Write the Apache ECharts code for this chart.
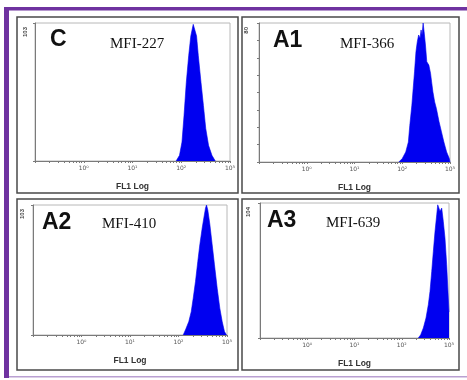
<!DOCTYPE html>
<html>
<head>
<meta charset="utf-8">
<script src="https://cdn.jsdelivr.net/npm/echarts@6/dist/echarts.min.js"></script>
<style>html,body{margin:0;padding:0;background:#fff;}#c{width:467px;height:380px;}</style>
</head>
<body>
<div id="c"></div>
<script>
// ---- data (FL1 intensity on log scale, event counts) ----
const panelNames = ['C', 'A1', 'A2', 'A3'];
const mfiLabels = ['MFI-227', 'MFI-366', 'MFI-410', 'MFI-639'];
const yMaxValues = [103, 80, 103, 104];
const yTickSteps = [103, 10, 103, 104];
const xTickLabels = ['10⁰', '10¹', '10²', '10³'];
const xAxisName = 'FL1 Log';

const cX = [78.5, 92, 103.5, 114, 127, 142, 157, 176, 184.5, 206, 224, 254, 285, 318, 363, 426, 499];
const cY = [0, 4.2, 14.1, 33.9, 58.7, 78.5, 93.3, 102, 103, 93.3, 78.5, 58.7, 41.4, 24.3, 11.7, 4.2, 0];

const a1X = [84.9, 100, 118.3, 134.3, 143.9, 158.9, 169.4, 180.7, 193.6, 206.5, 220.3, 236.0, 247.7, 260.0, 273.5, 287.1, 306.2, 326.6, 360.6, 391.7, 412.1, 438.5, 477.5, 518.8, 590.2, 663.7, 744.7, 849.2, 966, 1000];
const a1Y = [0, 2, 5.8, 11.5, 21.1, 32.7, 42.3, 51.9, 63.4, 69.2, 73.1, 71.2, 76, 73.1, 80, 75, 67.3, 57.7, 55.8, 51, 46.1, 40.4, 34.6, 30.8, 23.1, 17.3, 11.5, 5.8, 2, 0];

const a2X = [125, 139, 163, 183, 201, 224, 250, 275, 308, 333, 361, 378, 402, 442, 495, 552, 628, 711, 796, 887, 977];
const a2Y = [0, 4, 10.6, 18.5, 29.1, 42.4, 58.3, 71.5, 84.8, 92.7, 100.7, 103, 99, 87.9, 71.5, 55.6, 37, 21.2, 10.6, 2.7, 0];

const a3X = [224, 252, 286, 326, 365, 396, 431, 466, 506, 550, 577, 605, 646, 701, 757, 822, 893, 966, 1000];
const a3Y = [0, 2.5, 7.7, 15.4, 25.6, 35.9, 51.3, 66.7, 82.1, 94.9, 102.6, 104, 97.6, 100.1, 89.9, 77, 56.5, 30.8, 20];

const seriesX = [cX, a1X, a2X, a3X];
const seriesY = [cY, a1Y, a2Y, a3Y];

// ---- layout ----
const grids = [
  {left: 35, top: 23, width: 195, height: 138},
  {left: 259, top: 23, width: 191, height: 139},
  {left: 33, top: 205, width: 194, height: 130},
  {left: 260, top: 203, width: 189, height: 135}
];
const boxes = [
  {x: 17, y: 17, w: 221, h: 176},
  {x: 242, y: 17, w: 217, h: 176},
  {x: 17, y: 199, w: 221, h: 171},
  {x: 242, y: 199, w: 217, h: 171}
];
const bigPos = [[50, 40], [273, 41], [42, 223], [267, 221]];
const mfiPos = [[110, 44], [340, 44], [102, 224], [326, 223]];
const yLabelMargin = [10, 13, 11, 12];

const chart = echarts.init(document.getElementById('c'), null, {renderer: 'canvas'});

const xAxes = [], yAxes = [], series = [], gridOpts = [];
for (let i = 0; i < 4; i++) {
  gridOpts.push(Object.assign({show: true, borderColor: '#b8b8b8', borderWidth: 1, backgroundColor: '#fff'}, grids[i]));
  xAxes.push({
    type: 'log', logBase: 10, min: 0.1, max: 1000, gridIndex: i,
    name: xAxisName, nameLocation: 'middle', nameGap: 21,
    nameTextStyle: {fontSize: 8.5, fontWeight: 'bold', color: '#333', fontFamily: 'Liberation Sans'},
    axisLine: {show: true, lineStyle: {color: '#7a7a7a', width: 1}},
    axisTick: {show: true, length: 2, lineStyle: {color: '#7a7a7a'}},
    minorTick: {show: true, splitNumber: 9, length: 2, lineStyle: {color: '#7a7a7a'}},
    splitLine: {show: false},
    axisLabel: {
      fontSize: 6, color: '#555', margin: 4, fontFamily: 'DejaVu Sans',
      formatter: v => { const e = Math.round(Math.log10(v)); return e >= 0 ? xTickLabels[e] : ''; }
    }
  });
  const ymax = yMaxValues[i];
  yAxes.push({
    type: 'value', min: 0, max: ymax, interval: yTickSteps[i], gridIndex: i,
    axisLine: {show: true, lineStyle: {color: '#7a7a7a', width: 1}},
    axisTick: {show: true, length: 2, lineStyle: {color: '#7a7a7a'}},
    splitLine: {show: false},
    axisLabel: {
      rotate: 90, align: 'right', verticalAlign: 'middle', margin: yLabelMargin[i],
      padding: [0, 4, 0, 0],
      fontSize: 6, fontWeight: 'bold', color: '#444', fontFamily: 'Liberation Sans',
      formatter: v => (v === ymax ? String(ymax) : '')
    }
  });
  series.push({
    type: 'line', xAxisIndex: i, yAxisIndex: i,
    data: seriesX[i].map((x, k) => [x, seriesY[i][k]]),
    symbol: 'none', smooth: false, silent: true,
    lineStyle: {color: '#0000f0', width: 0.6},
    areaStyle: {color: '#0000f0', opacity: 1},
    clip: true, animation: false
  });
}

const graphics = [
  {type: 'rect', shape: {x: 4, y: 7, width: 463, height: 3.5}, style: {fill: '#6f32a0'}, z: 10},
  {type: 'rect', shape: {x: 4, y: 7, width: 5, height: 371}, style: {fill: '#6f32a0'}, z: 10},
  {type: 'rect', shape: {x: 9, y: 376, width: 458, height: 1.5}, style: {fill: '#b9a0d2'}, z: 10}
];
for (let i = 0; i < 4; i++) {
  const b = boxes[i];
  graphics.push({type: 'rect', shape: {x: b.x, y: b.y, width: b.w, height: b.h}, style: {fill: 'none', stroke: '#4a4a4a', lineWidth: 1.5}, z: 10});
  graphics.push({type: 'text', x: bigPos[i][0], y: bigPos[i][1], style: {text: panelNames[i], font: 'bold 23px "Liberation Sans"', fill: '#111', textVerticalAlign: 'middle'}, z: 11});
  graphics.push({type: 'text', x: mfiPos[i][0], y: mfiPos[i][1], style: {text: mfiLabels[i], font: '15px "Liberation Serif"', fill: '#111', textVerticalAlign: 'middle'}, z: 11});
}

chart.setOption({
  animation: false,
  backgroundColor: '#fff',
  grid: gridOpts,
  xAxis: xAxes,
  yAxis: yAxes,
  series: series,
  graphic: graphics
});
</script>
</body>
</html>
